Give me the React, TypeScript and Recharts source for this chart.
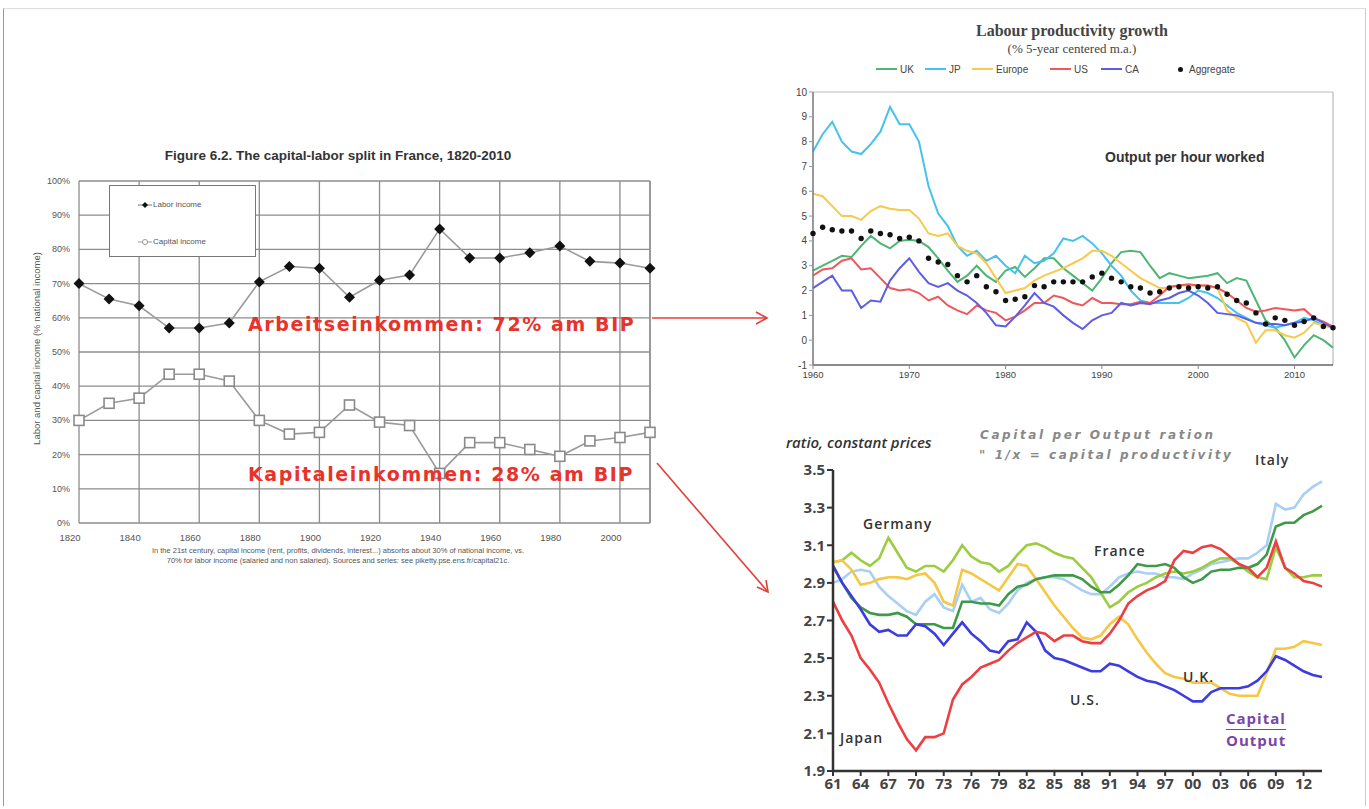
import React from 'react';
import { LineChart, Line, XAxis, YAxis, CartesianGrid, ReferenceLine } from 'recharts';

// ---------- Figure 6.2: capital-labor split in France ----------
const FR_YEARS = [1820, 1830, 1840, 1850, 1860, 1870, 1880, 1890, 1900, 1910, 1920, 1930, 1940, 1950, 1960, 1970, 1980, 1990, 2000, 2010];
const LABOR_SHARE = [70, 65.5, 63.5, 57, 57, 58.5, 70.5, 75, 74.5, 66, 71, 72.5, 86, 77.5, 77.5, 79, 81, 76.5, 76, 74.5];
const CAPITAL_SHARE = [30, 35, 36.5, 43.5, 43.5, 41.5, 30, 26, 26.5, 34.5, 29.5, 28.5, 14.5, 23.5, 23.5, 21.5, 19.5, 24, 25, 26.5];
const FR_X_TICKS = [1820, 1840, 1860, 1880, 1900, 1920, 1940, 1960, 1980, 2000];
const FR_Y_TICKS = [0, 10, 20, 30, 40, 50, 60, 70, 80, 90, 100];

// ---------- Labour productivity growth (% 5-year centered m.a.) ----------
const PROD_YEARS = [
  1960, 1961, 1962, 1963, 1964, 1965, 1966, 1967, 1968, 1969,
  1970, 1971, 1972, 1973, 1974, 1975, 1976, 1977, 1978, 1979,
  1980, 1981, 1982, 1983, 1984, 1985, 1986, 1987, 1988, 1989,
  1990, 1991, 1992, 1993, 1994, 1995, 1996, 1997, 1998, 1999,
  2000, 2001, 2002, 2003, 2004, 2005, 2006, 2007, 2008, 2009,
  2010, 2011, 2012, 2013, 2014,
];
const UK = [
  2.8, 3.0, 3.2, 3.4, 3.35, 3.8, 4.2, 3.9, 3.7, 4.0,
  4.05, 4.0, 3.75, 3.3, 2.8, 2.35, 2.6, 3.0, 2.6, 2.35,
  2.8, 2.95, 2.55, 2.9, 3.3, 3.3, 2.9, 2.6, 2.3, 2.0,
  2.5, 3.1, 3.55, 3.6, 3.55, 3.0, 2.5, 2.7, 2.6, 2.5,
  2.55, 2.6, 2.7, 2.3, 2.5, 2.4, 1.6, 0.8, 0.5, 0.0,
  -0.7, -0.2, 0.2, 0.0, -0.3,
];
const JP = [
  7.6, 8.3, 8.8, 8.0, 7.6, 7.5, 7.9, 8.4, 9.4, 8.7,
  8.7, 8.0, 6.2, 5.1, 4.6, 3.8, 3.4, 3.6, 3.2, 3.4,
  3.0, 2.7, 3.4, 3.1, 3.2, 3.5, 4.1, 4.0, 4.2, 3.9,
  3.5, 3.0, 2.6, 2.0, 1.6, 1.5, 1.5, 1.5, 1.5, 1.7,
  2.0, 1.9, 1.7, 1.4, 1.1, 0.9, 0.7, 0.6, 0.5, 0.6,
  0.7, 0.9, 0.8, 0.6, 0.5,
];
const EUROPE = [
  5.9, 5.8, 5.4, 5.0, 5.0, 4.85, 5.2, 5.4, 5.3, 5.25,
  5.25, 4.9, 4.3, 4.2, 4.3, 3.8, 3.6, 3.5, 3.1, 2.5,
  1.9, 2.0, 2.1, 2.4, 2.6, 2.75, 2.9, 3.1, 3.3, 3.6,
  3.6, 3.4, 3.1, 2.8, 2.5, 2.3, 2.1, 2.1, 2.2, 2.2,
  2.2, 2.2, 2.1, 1.2, 0.9, 0.7, -0.1, 0.4, 0.4, 0.2,
  0.1, 0.3, 0.7, 0.6, 0.5,
];
const US = [
  2.6, 2.85, 2.9, 3.2, 3.3, 2.85, 2.9, 2.5, 2.1, 2.0,
  2.05, 1.9, 1.6, 1.75, 1.4, 1.2, 1.05, 1.4, 1.2, 1.1,
  0.8, 0.95, 1.2, 1.5, 1.5, 1.8, 1.7, 1.5, 1.4, 1.7,
  1.5, 1.5, 1.45, 1.45, 1.55, 1.5, 1.8, 2.15, 2.2, 2.25,
  2.2, 2.2, 2.1, 1.9, 1.6, 1.3, 1.15, 1.2, 1.3, 1.25,
  1.2, 1.25, 0.9, 0.75, 0.55,
];
const CA = [
  2.1, 2.35, 2.6, 2.0, 2.0, 1.3, 1.6, 1.55, 2.4, 2.9,
  3.3, 2.75, 2.3, 2.15, 2.3, 2.0, 1.8, 1.5, 1.1, 0.6,
  0.55, 0.95, 1.4, 1.9, 1.5, 1.35, 1.0, 0.7, 0.45, 0.8,
  1.0, 1.1, 1.5, 1.4, 1.5, 1.45, 1.6, 1.7, 1.9, 2.0,
  1.8, 1.5, 1.1, 1.05, 1.0, 0.85, 0.7, 0.65, 0.65, 0.6,
  0.7, 0.75, 0.9, 0.7, 0.5,
];
const AGGREGATE = [
  4.3, 4.55, 4.45, 4.4, 4.4, 4.1, 4.4, 4.3, 4.25, 4.1,
  4.15, 4.0, 3.3, 3.15, 3.05, 2.6, 2.35, 2.6, 2.15, 1.95,
  1.6, 1.65, 1.75, 2.2, 2.15, 2.35, 2.35, 2.35, 2.35, 2.55,
  2.7, 2.5, 2.35, 2.15, 2.1, 1.9, 1.95, 2.1, 2.15, 2.1,
  2.15, 2.1, 2.15, 1.85, 1.6, 1.5, 1.1, 0.65, 0.9, 0.8,
  0.6, 0.75, 0.9, 0.55, 0.5,
];
const PROD_X_TICKS = [1960, 1970, 1980, 1990, 2000, 2010];
const PROD_Y_TICKS = [-1, 0, 1, 2, 3, 4, 5, 6, 7, 8, 9, 10];

// ---------- Capital per output ratio, constant prices ----------
const KY_YEARS = [
  1961, 1962, 1963, 1964, 1965, 1966, 1967, 1968, 1969,
  1970, 1971, 1972, 1973, 1974, 1975, 1976, 1977, 1978, 1979,
  1980, 1981, 1982, 1983, 1984, 1985, 1986, 1987, 1988, 1989,
  1990, 1991, 1992, 1993, 1994, 1995, 1996, 1997, 1998, 1999,
  2000, 2001, 2002, 2003, 2004, 2005, 2006, 2007, 2008, 2009,
  2010, 2011, 2012, 2013, 2014,
];
const KY_JAPAN = [
  2.8, 2.7, 2.62, 2.5, 2.44, 2.37, 2.26, 2.16, 2.07,
  2.01, 2.08, 2.08, 2.1, 2.28, 2.36, 2.4, 2.45, 2.47, 2.49,
  2.54, 2.58, 2.61, 2.64, 2.63, 2.59, 2.62, 2.62, 2.59, 2.58,
  2.58, 2.63, 2.7, 2.79, 2.83, 2.86, 2.88, 2.91, 3.02, 3.07,
  3.06, 3.09, 3.1, 3.08, 3.04, 3.0, 2.98, 2.93, 2.98, 3.12,
  2.98, 2.95, 2.91, 2.9, 2.88,
];
const KY_US = [
  2.99, 2.9, 2.83, 2.76, 2.68, 2.64, 2.65, 2.62, 2.62,
  2.68, 2.67, 2.63, 2.57, 2.63, 2.69, 2.63, 2.59, 2.54, 2.53,
  2.59, 2.6, 2.69, 2.64, 2.54, 2.5, 2.49, 2.47, 2.45, 2.43,
  2.43, 2.47, 2.46, 2.43, 2.4, 2.38, 2.37, 2.35, 2.33, 2.3,
  2.27, 2.27, 2.32, 2.34, 2.34, 2.34, 2.35, 2.38, 2.43, 2.51,
  2.49, 2.46, 2.43, 2.41, 2.4,
];
const KY_UK = [
  3.01, 3.02, 2.97, 2.89, 2.9, 2.92, 2.93, 2.93, 2.92,
  2.94, 2.95, 2.9, 2.8, 2.78, 2.97, 2.95, 2.92, 2.89, 2.86,
  2.93, 3.0, 2.99, 2.92, 2.85, 2.78, 2.72, 2.66, 2.61, 2.6,
  2.62, 2.68, 2.72, 2.68, 2.6, 2.53, 2.47, 2.42, 2.4, 2.39,
  2.37, 2.37, 2.37, 2.34, 2.31, 2.3, 2.3, 2.3, 2.42, 2.55,
  2.55, 2.56, 2.59, 2.58, 2.57,
];
const KY_GERMANY = [
  3.01, 3.02, 3.06, 3.02, 2.99, 3.03, 3.14, 3.06, 2.98,
  2.96, 2.99, 2.99, 2.96, 3.02, 3.1, 3.04, 3.01, 3.0, 2.96,
  2.99, 3.05, 3.1, 3.11, 3.09, 3.06, 3.04, 3.03, 2.98, 2.93,
  2.85, 2.77, 2.8, 2.85, 2.88, 2.9, 2.93, 2.95, 2.96, 2.95,
  2.96, 2.98, 3.01, 3.03, 3.03, 3.0, 2.96, 2.93, 2.92, 3.09,
  2.98, 2.93, 2.93, 2.94, 2.94,
];
const KY_FRANCE = [
  2.99, 2.9, 2.82, 2.77, 2.74, 2.73, 2.73, 2.74, 2.72,
  2.68, 2.68, 2.68, 2.66, 2.66, 2.8, 2.8, 2.79, 2.79, 2.78,
  2.84, 2.88, 2.89, 2.92, 2.93, 2.94, 2.94, 2.94, 2.92, 2.88,
  2.85, 2.85, 2.89, 2.94, 3.0, 2.99, 2.99, 3.0, 2.98, 2.93,
  2.9, 2.92, 2.96, 2.97, 2.97, 2.98, 2.98, 3.0, 3.05, 3.2,
  3.22, 3.22, 3.26, 3.28, 3.31,
];
const KY_ITALY = [
  2.9, 2.92, 2.96, 2.97, 2.96, 2.88, 2.83, 2.79, 2.75,
  2.73, 2.8, 2.84, 2.77, 2.75, 2.89, 2.8, 2.82, 2.76, 2.74,
  2.79, 2.86, 2.9, 2.92, 2.93, 2.93, 2.92, 2.89, 2.86, 2.84,
  2.84, 2.88, 2.93, 2.95, 2.96, 2.95, 2.95, 2.93, 2.93, 2.92,
  2.95, 2.97, 3.0, 3.01, 3.02, 3.03, 3.03, 3.06, 3.1, 3.32,
  3.29, 3.3, 3.37, 3.41, 3.44,
];
const KY_X_TICKS = [1961, 1964, 1967, 1970, 1973, 1976, 1979, 1982, 1985, 1988, 1991, 1994, 1997, 2000, 2003, 2006, 2009, 2012];
const KY_Y_TICKS = [1.9, 2.1, 2.3, 2.5, 2.7, 2.9, 3.1, 3.3, 3.5];

const frData = FR_YEARS.map((year, i) => ({ year, labor: LABOR_SHARE[i], capital: CAPITAL_SHARE[i] }));
const prodData = PROD_YEARS.map((year, i) => ({
  year, uk: UK[i], jp: JP[i], europe: EUROPE[i], us: US[i], ca: CA[i], agg: AGGREGATE[i],
}));
const kyData = KY_YEARS.map((year, i) => ({
  year, japan: KY_JAPAN[i], us: KY_US[i], uk: KY_UK[i], germany: KY_GERMANY[i], france: KY_FRANCE[i], italy: KY_ITALY[i],
}));

// margins so that the plot area lands on a given page rectangle
function fitMargin(box: { left: number; top: number; w: number; h: number }, plot: { l: number; t: number; r: number; b: number }, yW: number, xH: number) {
  return {
    left: plot.l - box.left - yW,
    top: plot.t - box.top,
    right: box.left + box.w - plot.r,
    bottom: box.top + box.h - plot.b - xH,
  };
}

const SANS = 'Liberation Sans, Arial, sans-serif';
const abs = (left: number, top: number): React.CSSProperties => ({ position: 'absolute', left, top });

const Diamond = (p: any) => {
  if (p.cx == null || p.cy == null) return <g key={p.index} />;
  const r = 5.5;
  return <path key={p.index} d={`M${p.cx},${p.cy - r}L${p.cx + r},${p.cy}L${p.cx},${p.cy + r}L${p.cx - r},${p.cy}Z`} fill="#111" />;
};
const OpenSquare = (p: any) => {
  if (p.cx == null || p.cy == null) return <g key={p.index} />;
  return <rect key={p.index} x={p.cx - 5} y={p.cy - 5} width={10} height={10} fill="#fff" stroke="#8a8a8a" strokeWidth={1.6} />;
};

function FranceChart() {
  const box = { left: 0, top: 140, w: 700, h: 440 };
  const margin = fitMargin(box, { l: 79, t: 181, r: 650, b: 523 }, 40, 30);
  return (
    <div style={{ ...abs(box.left, box.top) }}>
      <LineChart width={box.w} height={box.h} data={frData} margin={margin}>
        <CartesianGrid stroke="#8c8c8c" strokeWidth={1.3} />
        <XAxis
          dataKey="year" type="number" domain={[1820, 2010]} ticks={FR_X_TICKS} height={30}
          axisLine={false} tickLine={false}
          tick={(p: any) => (
            <text x={p.x - 9} y={p.y + 10} textAnchor="middle" fontSize={9.5} fill="#555" fontFamily={SANS}>{p.payload.value}</text>
          )}
        />
        <YAxis
          type="number" domain={[0, 100]} ticks={FR_Y_TICKS} width={40} axisLine={false} tickLine={false}
          tick={(p: any) => (
            <text x={p.x - 1} y={p.y + 3} textAnchor="end" fontSize={9} fill="#555" fontFamily={SANS}>{p.payload.value}%</text>
          )}
        />
        <ReferenceLine x={2010} stroke="#8c8c8c" strokeWidth={1.3} />
        <Line dataKey="labor" name="Labor income" type="linear" stroke="#9a9a9a" strokeWidth={1.6} dot={Diamond} isAnimationActive={false} />
        <Line dataKey="capital" name="Capital income" type="linear" stroke="#9a9a9a" strokeWidth={1.6} dot={OpenSquare} isAnimationActive={false} />
      </LineChart>
      {/* legend box */}
      <div style={{ position: 'absolute', left: 109, top: 45, width: 145, height: 70, border: '1px solid #777', background: '#fff', fontFamily: SANS, fontSize: 8, color: '#555' }}>
        <div style={{ position: 'absolute', left: 28, top: 14, display: 'flex', alignItems: 'center', whiteSpace: 'nowrap' }}>
          <svg width={14} height={8}><line x1={0} y1={4} x2={14} y2={4} stroke="#777" /><path d="M7,1L10,4L7,7L4,4Z" fill="#111" /></svg>
          <span style={{ marginLeft: 1 }}>Labor income</span>
        </div>
        <div style={{ position: 'absolute', left: 28, top: 51, display: 'flex', alignItems: 'center', whiteSpace: 'nowrap' }}>
          <svg width={14} height={8}><line x1={0} y1={4} x2={14} y2={4} stroke="#999" /><circle cx={7} cy={4} r={2.5} fill="#fff" stroke="#999" /></svg>
          <span style={{ marginLeft: 1 }}>Capital income</span>
        </div>
      </div>
    </div>
  );
}

const PROD_SERIES = [
  { key: 'uk', name: 'UK', color: '#4cb673', lx: 876 },
  { key: 'jp', name: 'JP', color: '#45c2ee', lx: 925 },
  { key: 'europe', name: 'Europe', color: '#f6ca4c', lx: 972 },
  { key: 'us', name: 'US', color: '#f0575b', lx: 1050 },
  { key: 'ca', name: 'CA', color: '#5d5de6', lx: 1101 },
];

function ProductivityChart() {
  const box = { left: 770, top: 60, w: 590, h: 340 };
  const margin = fitMargin(box, { l: 813, t: 92, r: 1333, b: 365 }, 30, 22);
  return (
    <div style={{ ...abs(box.left, box.top) }}>
      <LineChart width={box.w} height={box.h} data={prodData} margin={margin}>
        <XAxis
          dataKey="year" type="number" domain={[1960, 2014]} ticks={PROD_X_TICKS} height={22}
          axisLine={{ stroke: '#666', strokeWidth: 1.5 }} tickLine={{ stroke: '#888' }} tickSize={4}
          tick={{ fontSize: 9.5, fill: '#444', fontFamily: SANS }}
        />
        <YAxis
          type="number" domain={[-1, 10]} ticks={PROD_Y_TICKS} width={30}
          axisLine={{ stroke: '#777', strokeWidth: 1.5 }} tickLine={{ stroke: '#999' }} tickSize={4}
          tick={{ fontSize: 10, fill: '#444', fontFamily: SANS }}
        />
        <ReferenceLine y={10} stroke="#bbb" strokeWidth={1.2} />
        <ReferenceLine x={2014} stroke="#bbb" strokeWidth={1.2} />
        {PROD_SERIES.map((s) => (
          <Line key={s.key} dataKey={s.key} name={s.name} type="linear" stroke={s.color} strokeWidth={2} dot={false} isAnimationActive={false} />
        ))}
        <Line dataKey="agg" name="Aggregate" type="linear" stroke="none" dot={{ r: 2.7, fill: '#111', stroke: 'none' }} isAnimationActive={false} />
      </LineChart>
    </div>
  );
}

function ProductivityLegend() {
  const font: React.CSSProperties = { fontFamily: SANS, fontSize: 10, color: '#444', whiteSpace: 'nowrap' };
  return (
    <>
      {PROD_SERIES.map((s) => (
        <div key={s.key} style={{ position: 'absolute', left: s.lx, top: 62, display: 'flex', alignItems: 'center', height: 14, ...font }}>
          <div style={{ width: 21, height: 2.5, background: s.color, marginRight: 3 }} />
          <span>{s.name}</span>
        </div>
      ))}
      <div style={{ position: 'absolute', left: 1178, top: 62, display: 'flex', alignItems: 'center', height: 14, ...font }}>
        <div style={{ width: 5, height: 5, borderRadius: 3, background: '#111', marginRight: 6 }} />
        <span>Aggregate</span>
      </div>
    </>
  );
}

const KY_SERIES = [
  { key: 'italy', color: '#a9cff4' },
  { key: 'germany', color: '#9ccc3f' },
  { key: 'uk', color: '#f5c744' },
  { key: 'france', color: '#3e9a47' },
  { key: 'us', color: '#3c3ce2' },
  { key: 'japan', color: '#ee3e42' },
];

function CapitalOutputChart() {
  const box = { left: 770, top: 440, w: 590, h: 369 };
  const margin = fitMargin(box, { l: 833, t: 470, r: 1322, b: 771 }, 40, 28);
  const tickFont = { fontSize: 15, fill: '#444', fontFamily: 'Open Sans, sans-serif', fontWeight: 700 };
  return (
    <div style={{ ...abs(box.left, box.top) }}>
      <LineChart width={box.w} height={box.h} data={kyData} margin={margin}>
        <XAxis
          dataKey="year" type="number" domain={[1961, 2014]} ticks={KY_X_TICKS} height={28}
          axisLine={{ stroke: '#333', strokeWidth: 2.5 }} tickLine={{ stroke: '#333', strokeWidth: 2 }} tickSize={5}
          tickFormatter={(v: number) => String(v).slice(2)}
          tick={tickFont}
        />
        <YAxis
          type="number" domain={[1.9, 3.5]} ticks={KY_Y_TICKS} width={40}
          axisLine={{ stroke: '#333', strokeWidth: 2.5 }} tickLine={{ stroke: '#333', strokeWidth: 2 }} tickSize={6}
          tickFormatter={(v: number) => v.toFixed(1)}
          tick={tickFont}
        />
        {KY_SERIES.map((s) => (
          <Line key={s.key} dataKey={s.key} type="linear" stroke={s.color} strokeWidth={2.6} dot={false} isAnimationActive={false} />
        ))}
      </LineChart>
    </div>
  );
}

const countryLabel: React.CSSProperties = { position: 'absolute', fontFamily: 'Open Sans, sans-serif', fontWeight: 600, fontSize: 14, color: '#333', letterSpacing: 1, whiteSpace: 'nowrap' };
const redNote: React.CSSProperties = { position: 'absolute', fontFamily: 'DejaVu Sans, sans-serif', fontWeight: 700, fontSize: 19, color: '#e8332c', letterSpacing: 1.6, whiteSpace: 'nowrap' };
const kyNote: React.CSSProperties = { position: 'absolute', fontFamily: 'DejaVu Sans, sans-serif', fontStyle: 'italic', fontWeight: 700, fontSize: 12, color: '#888', letterSpacing: 2.6, whiteSpace: 'nowrap' };

export default function App() {
  return (
    <div style={{ position: 'fixed', left: 0, top: 0, width: 1369, height: 809, background: '#fff', overflow: 'hidden' }}>
      <div style={{ position: 'absolute', left: 3, top: 8, width: 1361, height: 797, borderLeft: '1.5px solid #999', borderTop: '1px solid #ddd', borderRight: '1px solid #ccc' }} />

      {/* left figure */}
      <div style={{ ...abs(0, 148), width: 676, textAlign: 'center', fontFamily: SANS, fontWeight: 700, fontSize: 13.5, color: '#333' }}>
        Figure 6.2. The capital-labor split in France, 1820-2010
      </div>
      <div style={{ position: 'absolute', left: 36, top: 349, width: 0, height: 0 }}>
        <div style={{ position: 'absolute', left: -150, top: -6, width: 300, textAlign: 'center', transform: 'rotate(-90deg)', fontFamily: SANS, fontSize: 9.5, color: '#555', whiteSpace: 'nowrap' }}>
          Labor and capital income (% national income)
        </div>
      </div>
      <FranceChart />
      <div style={{ ...abs(40, 546), width: 596, textAlign: 'center', fontFamily: SANS, fontSize: 7.5, lineHeight: '10px', color: '#555' }}>
        In the 21st century, capital income (rent, profits, dividends, interest...) absorbs about 30% of national income, vs.<br />
        70% for labor income (salaried and non salaried). Sources and series: see piketty.pse.ens.fr/capital21c.
      </div>
      <div style={{ ...redNote, left: 248, top: 313 }}>Arbeitseinkommen: 72% am BIP</div>
      <div style={{ ...redNote, left: 248, top: 463 }}>Kapitaleinkommen: 28% am BIP</div>

      {/* arrows */}
      <svg style={{ position: 'absolute', left: 0, top: 0 }} width={1369} height={809}>
        <line x1={652} y1={318} x2={767} y2={318} stroke="#e0403a" strokeWidth={1.6} />
        <polyline points="756,312 767,318 756,324" fill="none" stroke="#e0403a" strokeWidth={1.6} />
        <line x1={657} y1={463} x2={768} y2={592} stroke="#e0403a" strokeWidth={1.6} />
        <polyline points="757,587 768,592 766,580" fill="none" stroke="#e0403a" strokeWidth={1.6} />
      </svg>

      {/* top-right figure */}
      <div style={{ ...abs(872, 22), width: 400, textAlign: 'center', fontFamily: 'Liberation Serif, serif', fontWeight: 700, fontSize: 16, color: '#444' }}>
        Labour productivity growth
      </div>
      <div style={{ ...abs(872, 41), width: 400, textAlign: 'center', fontFamily: 'Liberation Serif, serif', fontSize: 13, color: '#444' }}>
        (% 5-year centered m.a.)
      </div>
      <ProductivityLegend />
      <ProductivityChart />
      <div style={{ ...abs(1105, 149), fontFamily: SANS, fontWeight: 700, fontSize: 14, color: '#333', whiteSpace: 'nowrap' }}>Output per hour worked</div>

      {/* bottom-right figure */}
      <div style={{ ...abs(786, 432), fontFamily: 'Open Sans, sans-serif', fontStyle: 'italic', fontWeight: 600, fontSize: 15, color: '#333', whiteSpace: 'nowrap' }}>ratio, constant prices</div>
      <div style={{ ...kyNote, left: 980, top: 428 }}>Capital per Output ration</div>
      <div style={{ ...kyNote, left: 979, top: 448 }}>" 1/x = capital productivity</div>
      <CapitalOutputChart />
      <div style={{ ...countryLabel, left: 863, top: 514 }}>Germany</div>
      <div style={{ ...countryLabel, left: 1094, top: 541 }}>France</div>
      <div style={{ ...countryLabel, left: 1255, top: 450 }}>Italy</div>
      <div style={{ ...countryLabel, left: 1183, top: 667 }}>U.K.</div>
      <div style={{ ...countryLabel, left: 1070, top: 690 }}>U.S.</div>
      <div style={{ ...countryLabel, left: 840, top: 728 }}>Japan</div>
      <div style={{ ...abs(1226, 708), fontFamily: 'Open Sans, sans-serif', fontWeight: 700, fontSize: 15, color: '#7b45a8', lineHeight: '21px', letterSpacing: 1 }}>
        <div style={{ borderBottom: '1.5px solid #7b45a8', display: 'inline-block' }}>Capital</div>
        <div>Output</div>
      </div>
    </div>
  );
}
